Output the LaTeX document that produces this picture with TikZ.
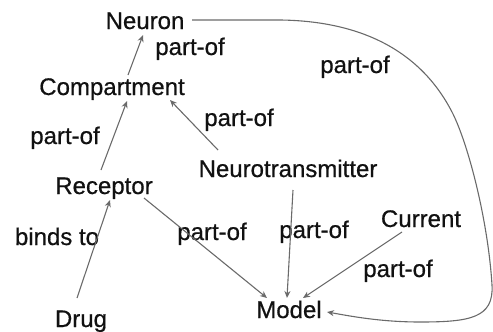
\documentclass[tikz,border=0pt]{standalone}
\usepackage{fontspec}
\setmainfont{Liberation Sans}
\newfontfamily\labelfont[FakeBold=0.6]{Liberation Sans}
\usetikzlibrary{arrows.meta}
\definecolor{edgegray}{HTML}{6A6A6A}
\definecolor{txt}{HTML}{111111}
\tikzset{
  concept/.style={anchor=base, inner sep=0pt, text=txt, font=\labelfont\fontsize{24}{28}\selectfont},
  rel/.style={anchor=base, inner sep=0pt, text=txt, font=\labelfont\fontsize{24}{28}\selectfont},
  link/.style={draw=edgegray, line width=1.1pt, -{Stealth[length=7pt,width=6pt]}}
}
\begin{document}
\begin{tikzpicture}[x=1pt,y=-1pt]
\useasboundingbox (0,0) rectangle (493,332);
% concepts
\node[concept] (neuron) at (145,29) {Neuron};
\node[concept] (comp) at (112,95) {Compartment};
\node[concept] (rec) at (104,194) {Receptor};
\node[concept] (drug) at (81,327) {Drug};
\node[concept] (nt) at (288,177) {Neurotransmitter};
\node[concept] (cur) at (421,227) {Current};
\node[concept] (model) at (289,318) {Model};
% relation labels
\node[rel] (l1) at (190,55) {part-of};
\node[rel] (l2) at (65,144) {part-of};
\node[rel] (l3) at (239,126) {part-of};
\node[rel] (l4) at (355,73) {part-of};
\node[rel] (l5) at (57,245) {binds to};
\node[rel] (l6) at (212,240) {part-of};
\node[rel] (l7) at (314,238) {part-of};
\node[rel] (l8) at (398,277) {part-of};
% connectors
\draw[link] ([shift={(16,-20)}]comp.base) -- ([shift={(-2,6)}]neuron.base);
\draw[link] ([shift={(-3,-24)}]rec.base) -- ([shift={(15,6)}]comp.base);
\draw[link] ([shift={(-70,-27)}]nt.base) -- ([shift={(58,5)}]comp.base);
\draw[link] ([shift={(-4,-29)}]drug.base) -- ([shift={(6,6)}]rec.base);
\draw[link] ([shift={(40,4)}]rec.base) -- ([shift={(-22,-20)}]model.base);
\draw[link] ([shift={(5,13)}]nt.base) -- ([shift={(-2,-20)}]model.base);
\draw[link] ([shift={(-19,5)}]cur.base) -- ([shift={(14,-20)}]model.base);
\draw[link] ([shift={(47,-9)}]neuron.base) -- (280,20)
  .. controls (360,21) and (420,50) .. (452,112)
  .. controls (468,143) and (488,220) .. (492,285)
  .. controls (494,318) and (470,322) .. (420,322)
  .. controls (380,322) and (350,316) .. ([shift={(38,-6)}]model.base);
\end{tikzpicture}
\end{document}
